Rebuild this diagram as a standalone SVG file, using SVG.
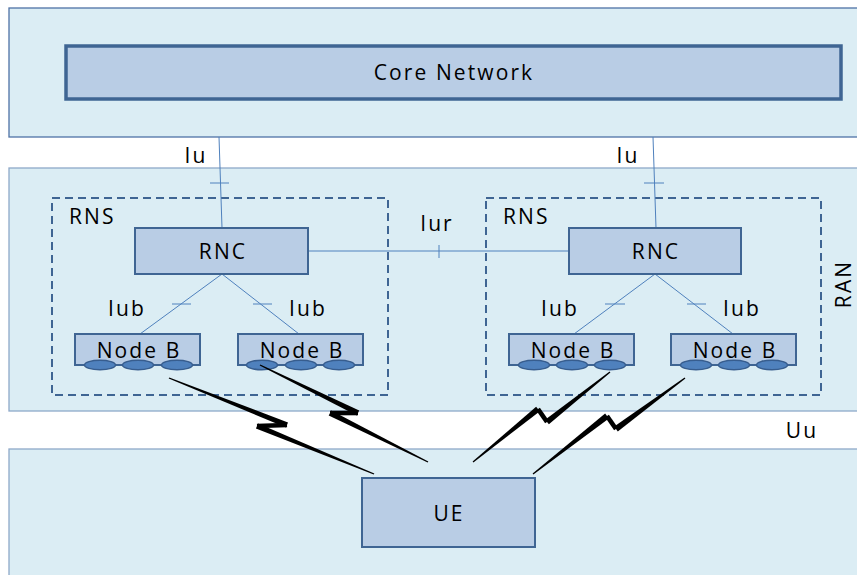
<svg xmlns="http://www.w3.org/2000/svg" width="857" height="575" viewBox="0 0 857 575">
  <defs>
    <style>
      .band { fill: #dbedf4; stroke: #8ea9c9; stroke-width: 1.3; }
      .band-dark { stroke: #4f72a6; }
      .node { fill: #b9cde5; stroke: #3f6593; stroke-width: 2; }
      .core { stroke-width: 3.5; }
      .rns { fill: none; stroke: #3f6593; stroke-width: 2; stroke-dasharray: 8 5; }
      .link { fill: none; stroke: #4f81bd; stroke-width: 1; }
      .ant { fill: #4f81bd; stroke: #375d8e; stroke-width: 1.5; }
      .bolt polygon { fill: #000; }
      text { font-family: "Open Sans", "Liberation Sans", sans-serif; font-size: 21px; fill: #000; letter-spacing: 2.1px; }
      .mid { text-anchor: middle; }
    </style>
  </defs>

  <!-- layer bands -->
  <rect class="band band-dark" x="9" y="8" width="860" height="129"/>
  <rect class="band" x="9" y="168" width="860" height="243"/>
  <rect class="band" x="9" y="449" width="860" height="140"/>

  <!-- radio network subsystems -->
  <g id="rns-left">
    <rect class="rns" x="52" y="198" width="336" height="197"/>
    <text x="69" y="224">RNS</text>
  </g>
  <g id="rns-right">
    <rect class="rns" x="486" y="198" width="335" height="197"/>
    <text x="503" y="224">RNS</text>
  </g>

  <!-- interfaces -->
  <g id="connectors">
    <line class="link" x1="219" y1="137" x2="222" y2="228"/>
    <line class="link" x1="210" y1="183" x2="229" y2="183"/>
    <line class="link" x1="653" y1="137" x2="656" y2="228"/>
    <line class="link" x1="644" y1="183" x2="664" y2="183"/>
    <line class="link" x1="308" y1="251" x2="569" y2="251"/>
    <line class="link" x1="439" y1="245" x2="439" y2="258"/>
    <line class="link" x1="222" y1="274" x2="140" y2="334"/>
    <line class="link" x1="172" y1="304" x2="191" y2="304"/>
    <line class="link" x1="222" y1="274" x2="299" y2="334"/>
    <line class="link" x1="253" y1="304" x2="272" y2="304"/>
    <line class="link" x1="655" y1="274" x2="574" y2="334"/>
    <line class="link" x1="605" y1="304" x2="625" y2="304"/>
    <line class="link" x1="655" y1="274" x2="733" y2="334"/>
    <line class="link" x1="687" y1="304" x2="706" y2="304"/>
    <text class="mid" x="196" y="163">Iu</text>
    <text class="mid" x="628" y="163">Iu</text>
    <text class="mid" x="437" y="231">Iur</text>
    <text class="mid" x="127" y="316">Iub</text>
    <text class="mid" x="308" y="316">Iub</text>
    <text class="mid" x="560" y="316">Iub</text>
    <text class="mid" x="742" y="316">Iub</text>
    <text class="mid" x="802" y="438">Uu</text>
  </g>

  <g id="core-network">
    <rect class="node core" x="66" y="46" width="775" height="53"/>
    <text class="mid" x="454" y="80">Core Network</text>
  </g>

  <g id="rnc-left">
    <rect class="node" x="135" y="228" width="173" height="46"/>
    <text class="mid" x="223" y="259">RNC</text>
  </g>
  <g id="rnc-right">
    <rect class="node" x="569" y="228" width="172" height="46"/>
    <text class="mid" x="656" y="259">RNC</text>
  </g>

  <g id="nodeb-1">
    <rect class="node" x="75" y="334" width="125" height="31"/>
    <text class="mid" x="139" y="358">Node B</text>
    <ellipse class="ant" cx="100" cy="365" rx="15.5" ry="4.8"/>
    <ellipse class="ant" cx="138" cy="365" rx="15.5" ry="4.8"/>
    <ellipse class="ant" cx="177" cy="365" rx="15.5" ry="4.8"/>
  </g>
  <g id="nodeb-2">
    <rect class="node" x="238" y="334" width="125" height="31"/>
    <text class="mid" x="302" y="358">Node B</text>
    <ellipse class="ant" cx="262" cy="365" rx="15.5" ry="4.8"/>
    <ellipse class="ant" cx="301" cy="365" rx="15.5" ry="4.8"/>
    <ellipse class="ant" cx="339" cy="365" rx="15.5" ry="4.8"/>
  </g>
  <g id="nodeb-3">
    <rect class="node" x="509" y="334" width="125" height="31"/>
    <text class="mid" x="573" y="358">Node B</text>
    <ellipse class="ant" cx="534" cy="365" rx="15.5" ry="4.8"/>
    <ellipse class="ant" cx="572" cy="365" rx="15.5" ry="4.8"/>
    <ellipse class="ant" cx="610" cy="365" rx="15.5" ry="4.8"/>
  </g>
  <g id="nodeb-4">
    <rect class="node" x="671" y="334" width="125" height="31"/>
    <text class="mid" x="735" y="358">Node B</text>
    <ellipse class="ant" cx="696" cy="365" rx="15.5" ry="4.8"/>
    <ellipse class="ant" cx="734" cy="365" rx="15.5" ry="4.8"/>
    <ellipse class="ant" cx="772" cy="365" rx="15.5" ry="4.8"/>
  </g>

  <g id="ue">
    <rect class="node" x="362" y="478" width="173" height="69"/>
    <text class="mid" x="449" y="521">UE</text>
  </g>

  <g id="ran-label">
    <text class="mid" transform="translate(851,284) rotate(-90)">RAN</text>
  </g>

  <!-- Uu radio links: tapered strokes with a zigzag in the middle -->
  <g id="radio-links" class="bolt">
    <polygon points="168.7,378.6 286.0,427.6 288.0,422.4 169.3,377.4"/>
    <polygon points="286.9,422.7 256.9,423.7 257.1,428.3 287.1,427.3"/>
    <polygon points="255.9,428.6 373.7,474.6 374.3,473.4 258.1,423.4"/>

    <polygon points="259.7,365.6 356.8,415.5 359.2,410.5 260.3,364.4"/>
    <polygon points="358,410.7 330,410.7 330,415.3 358,415.3"/>
    <polygon points="328.7,415.5 427.7,462.6 428.3,461.4 331.3,410.5"/>

    <polygon points="609.6,371.5 545.1,419.7 548.9,424.3 610.4,372.5"/>
    <polygon points="548.9,420.7 539.9,407.7 536.1,410.3 545.1,423.3"/>
    <polygon points="536.1,406.7 472.6,461.5 473.4,462.5 539.9,411.3"/>

    <polygon points="684.6,377.4 614.2,426.6 617.8,431.4 685.4,378.6"/>
    <polygon points="617.9,427.7 608.9,414.7 605.1,417.3 614.1,430.3"/>
    <polygon points="605.1,413.6 532.6,473.4 533.4,474.6 608.9,418.4"/>
  </g>
</svg>
